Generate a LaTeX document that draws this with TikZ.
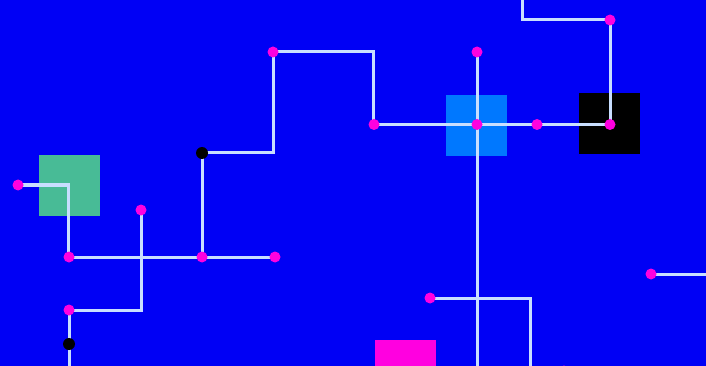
\documentclass[tikz,border=0pt]{standalone}
\begin{document}
\begin{tikzpicture}[x=1pt,y=-1pt,
  wire/.style={draw=wirec,line width=3pt},
  pdot/.style={circle,fill=dotm,inner sep=0pt,minimum size=11pt},
  bdot/.style={circle,fill=black,inner sep=0pt,minimum size=12pt},
  sq/.style={inner sep=0pt,minimum size=61pt}]
\definecolor{bg}{RGB}{0,0,245}
\definecolor{wirec}{RGB}{200,222,255}
\definecolor{dotm}{RGB}{255,0,224}
\definecolor{greenb}{RGB}{72,187,150}
\definecolor{blueb}{RGB}{0,120,255}
\definecolor{magb}{RGB}{255,0,224}
\useasboundingbox (0,0) rectangle (706,366);
\clip (0,0) rectangle (706,366);
\fill[bg] (0,0) rectangle (706,366);
% squares
\node[sq,fill=greenb] (sqg) at (69.5,185.5) {};
\node[sq,fill=blueb] (sqb) at (476.5,125.5) {};
\node[sq,fill=black] (sqk) at (609.5,123.5) {};
\node[sq,fill=magb] (sqm) at (405.5,370.5) {};
% coordinates
\coordinate (c1) at (68,185);
\coordinate (c2) at (202,153);
\coordinate (c3) at (373,52);
\coordinate (c4) at (610,20);
\coordinate (c5) at (522,20);
\coordinate (c6) at (522,-5);
\coordinate (c7) at (477,372);
\coordinate (c8) at (141,310);
\coordinate (c9) at (69,372);
\coordinate (c10) at (530,298);
\coordinate (c11) at (530,372);
\coordinate (c12) at (712,274);
% wires
\draw[wire] (18,185) coordinate (a1) -- (c1) -- (68,257) coordinate (a2);
\draw[wire] (a2) -- (275,257) coordinate (a3);
\draw[wire] (202,257) coordinate (a4) -- (c2) -- (273,153) coordinate (a5) -- (273,52) coordinate (a6) -- (c3) -- (373,124.5) coordinate (a7);
\draw[wire] (a7) -- (610,124.5) coordinate (a8);
\draw[wire] (a8) -- (c4) -- (c5) -- (c6);
\draw[wire] (477,52) coordinate (a9) -- (c7);
\draw[wire] (141,210) coordinate (a10) -- (c8) -- (69,310) coordinate (a11) -- (c9);
\draw[wire] (430,298) coordinate (a12) -- (c10) -- (c11);
\draw[wire] (651,274) coordinate (a13) -- (c12);
% dots
\node[pdot] (d1) at (a1) {};
\node[pdot] (d2) at (69,257) {};
\node[pdot] (d3) at (a4) {};
\node[pdot] (d4) at (a3) {};
\node[bdot] (d5) at (c2) {};
\node[pdot] (d6) at (a6) {};
\node[pdot] (d7) at (374,124.5) {};
\node[pdot] (d8) at (477,124.5) {};
\node[pdot] (d9) at (537,124.5) {};
\node[pdot] (d10) at (a8) {};
\node[pdot] (d11) at (c4) {};
\node[pdot] (d12) at (a9) {};
\node[pdot] (d13) at (a10) {};
\node[pdot] (d14) at (a11) {};
\node[bdot] (d15) at (69,344) {};
\node[pdot] (d16) at (a12) {};
\node[pdot] (d17) at (a13) {};
\node[pdot] (d18) at (564,371) {};
\end{tikzpicture}
\end{document}
